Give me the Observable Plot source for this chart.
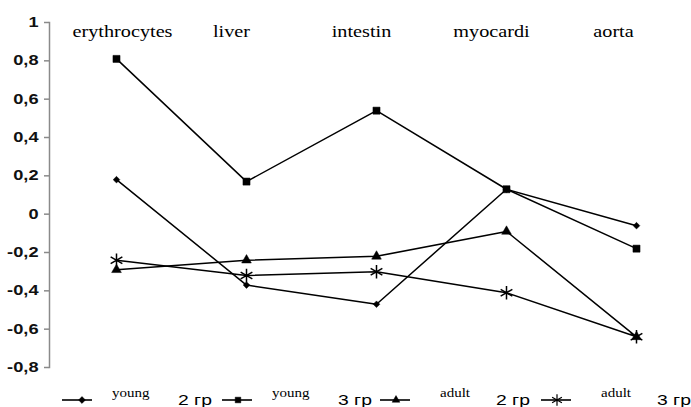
<!DOCTYPE html>
<html>
<head>
<meta charset="utf-8">
<script src="https://cdn.jsdelivr.net/npm/d3@7"></script>
<script src="https://cdn.jsdelivr.net/npm/@observablehq/plot@0.6"></script>
<style>
  html, body { margin: 0; padding: 0; background: #fff; }
  #wrap { position: relative; width: 691px; height: 407px; overflow: hidden; }
  #legend { position: absolute; left: 0; top: 386px; width: 691px; height: 21px; }
  .item { position: absolute; top: 0; height: 21px; width: 160px; }
  .item svg { position: absolute; left: 0; top: 7px; }
  .lab1 { position: absolute; top: 0px; font-family: "Times New Roman", "Liberation Serif", serif; font-size: 12px; color: #000; white-space: nowrap; transform: scaleX(1.25); transform-origin: left center; }
  .lab2 { position: absolute; top: 6px; font-family: Arial, "Liberation Sans", sans-serif; font-size: 14px; color: #000; white-space: nowrap; transform: scaleX(1.38); transform-origin: left center; }
</style>
</head>
<body>
<div id="wrap">
  <div id="chart"></div>
  <div id="legend"></div>
</div>
<script>
const categories = ["erythrocytes", "liver", "intestin", "myocardi", "aorta"];
const young2 = [0.18, -0.37, -0.47, 0.13, -0.06];
const young3 = [0.81, 0.17, 0.54, 0.13, -0.18];
const adult2 = [-0.29, -0.24, -0.22, -0.09, -0.64];
const adult3 = [-0.24, -0.32, -0.30, -0.41, -0.64];
const seriesAge = ["young", "young", "adult", "adult"];
const seriesGroup = ["2 гр", "3 гр", "2 гр", "3 гр"];
const seriesSymbols = ["diamond2", "square", "triangle", "asterisk"];
const yTicks = [-0.8, -0.6, -0.4, -0.2, 0, 0.2, 0.4, 0.6, 0.8, 1];

const seriesValues = [young2, young3, adult2, adult3];
const rows = [];
seriesValues.forEach((vals, s) => {
  vals.forEach((v, i) => rows.push({series: s, category: categories[i], value: v}));
});

const symR = [3.0, 4.0, 3.6, 6.4];

const dotMarks = seriesSymbols.map((sym, s) =>
  Plot.dot(rows.filter(d => d.series === s), {
    x: "category", y: "value", symbol: () => sym, r: symR[s],
    fill: sym === "asterisk" ? "none" : "black",
    stroke: "black", strokeWidth: sym === "asterisk" ? 1.5 : 0.5
  })
);

const fmt = d => String(d).replace(".", ",");
const serif = "Times New Roman, Liberation Serif, serif";
const catText = (data, dx) => Plot.text(data, {
  x: d => d, frameAnchor: "top", lineAnchor: "middle", dy: 9, dx, text: d => d,
  fill: "black", fontSize: 17, fontFamily: serif
});

const chart = Plot.plot({
  width: 691,
  height: 386,
  marginTop: 22,
  marginBottom: 19,
  marginLeft: 49,
  marginRight: 54,
  x: {type: "point", domain: categories, range: [114, 637], padding: 0, axis: null},
  y: {domain: [-0.8, 1], axis: null},
  symbol: {type: "identity"},
  style: {background: "white"},
  marks: [
    Plot.axisY({
      ticks: yTicks, tickSize: 5, tickPadding: 6, tickFormat: fmt, label: null,
      stroke: "#8a8a8a", fill: "#111", strokeWidth: 1.5,
      fontSize: 14, fontWeight: "bold", fontFamily: "Arial, Liberation Sans, sans-serif"
    }),
    Plot.frame({anchor: "left", stroke: "#8a8a8a", strokeWidth: 1.5}),
    Plot.line(rows, {x: "category", y: "value", z: "series", stroke: "black", strokeWidth: 1.5}),
    ...dotMarks,
    catText(categories.slice(0, 1), 6),
    catText(categories.slice(1, 4), -15),
    catText(categories.slice(4), -23)
  ]
});
document.getElementById("chart").appendChild(chart);

// horizontal stretch of texts to match the reference's wider glyphs
chart.querySelectorAll("text").forEach(t => {
  const isCat = categories.includes(t.textContent);
  const f = isCat ? 1.19 : 1.3;
  const w = t.getComputedTextLength();
  if (w > 0) {
    t.setAttribute("textLength", (w * f).toFixed(1));
    t.setAttribute("lengthAdjust", "spacingAndGlyphs");
  }
});

// Legend
const legend = document.getElementById("legend");
const itemLeft = [62, 222, 380, 541];
seriesSymbols.forEach((sym, s) => {
  const item = document.createElement("div");
  item.className = "item";
  item.style.left = itemLeft[s] + "px";
  const svg = d3.create("svg").attr("width", 34).attr("height", 14);
  svg.append("line").attr("x1", 0).attr("x2", 30).attr("y1", 7).attr("y2", 7)
    .attr("stroke", "black").attr("stroke-width", 1.6);
  const symbolType = {diamond2: d3.symbolDiamond2, square: d3.symbolSquare2, triangle: d3.symbolTriangle2, asterisk: d3.symbolAsterisk}[sym];
  const size = {diamond2: 30, square: 40, triangle: 42, asterisk: 90}[sym];
  svg.append("path").attr("d", d3.symbol(symbolType, size)())
    .attr("transform", `translate(${sym === "diamond2" ? 20 : 16},7)`)
    .attr("fill", sym === "asterisk" ? "none" : "black")
    .attr("stroke", "black").attr("stroke-width", sym === "asterisk" ? 1.2 : 0.5);
  item.appendChild(svg.node());
  const l1 = document.createElement("div");
  l1.className = "lab1";
  l1.style.left = (sym === "triangle" || sym === "asterisk" ? 60 : 50) + "px";
  l1.textContent = seriesAge[s];
  item.appendChild(l1);
  const l2 = document.createElement("div");
  l2.className = "lab2";
  l2.style.left = "116px";
  l2.textContent = seriesGroup[s];
  item.appendChild(l2);
  legend.appendChild(item);
});
</script>
</body>
</html>
